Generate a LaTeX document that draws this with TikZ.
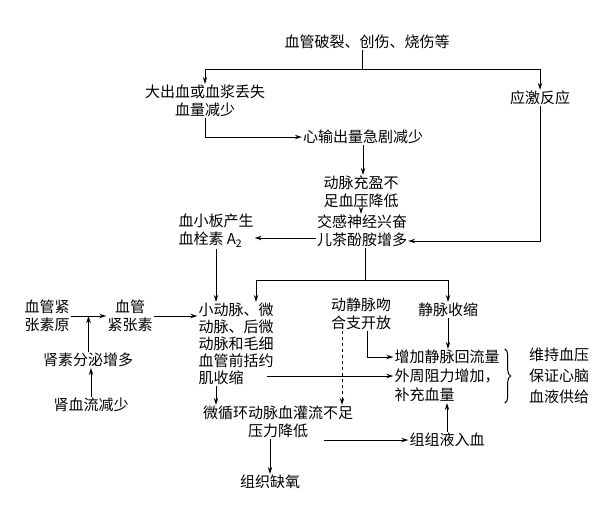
\documentclass[tikz,border=0pt]{standalone}
\usepackage{fontspec}
\setmainfont{Noto Sans CJK SC}
\usetikzlibrary{arrows.meta,positioning,decorations.pathreplacing}

\begin{document}
\begin{tikzpicture}[
    x=1pt, y=-1pt,
    >={Stealth[length=7pt,width=4.5pt]},
    every node/.style={font=\fontsize{15}{18}\selectfont, inner sep=1pt},
    lbl/.style={align=center},
    lblL/.style={align=left},
    arr/.style={->, line width=1pt}
]
    \useasboundingbox (0,0) rectangle (615,508);

    \node (injury) at (367,42) {血管破裂、创伤、烧伤等};
    \node[lbl] (bleed) at (205,101) {大出血或血浆丢失\\血量减少};
    \node (stress) at (540,98) {应激反应};
    \node (output) at (363,137) {心输出量急剧减少};
    \node[lblL] (pressure) at (361,192) {动脉充盈不\\足血压降低};
    \node[lblL] (sympa) at (362,231) {交感神经兴奋\\儿茶酚胺增多};
    \node[lblL] (platelet) at (216,231) {血小板产生\\血栓素 A\textsubscript{2}};

    \node[lbl] (angiogen) at (47,316) {血管紧\\张素原};
    \node[lbl] (angio) at (130,316) {血管\\紧张素};
    \node (renin) at (88,360) {肾素分泌增多};
    \node (kidney) at (91,405) {肾血流减少};
    \node[lblL, font=\fontsize{15}{17}\selectfont] (arteriole) at (236,344) {小动脉、微\\动脉、后微\\动脉和毛细\\血管前括约\\肌收缩};
    \node[lblL] (shunt) at (361,314) {动静脉吻\\合支开放};
    \node (vein) at (448,310) {静脉收缩};
    \node[lblL, font=\fontsize{15}{19}\selectfont] (effect) at (447,376) {增加静脉回流量\\外周阻力增加，\\补充血量};
    \node[lblL, font=\fontsize{15}{21}\selectfont] (result) at (559,376) {维持血压\\保证心脑\\血液供给};
    \node[lbl] (micro) at (278,422) {微循环动脉血灌流不足\\压力降低};
    \node (fluid) at (447,440) {组组液入血};
    \node (hypoxia) at (270,482) {组织缺氧};

    \coordinate (split) at (362,70);
    \coordinate (fork) at (365,280);

    % top part
    \draw[line width=1pt] (split |- injury.south) -- (split);
    \draw[arr] (split) -| (bleed.north);
    \draw[arr] (split) -| (stress.north);
    \draw[arr] (bleed.south) |- (output.west);
    \draw[arr] (output.south) -- (output.south |- pressure.north);
    \draw[arr] (pressure.south) -- (pressure.south |- sympa.north);
    \draw[arr] (stress.south) |- ([yshift=-10pt]sympa.east);
    \draw[arr] ([yshift=-7pt]sympa.west) -- ([yshift=-7pt]platelet.east);
    \draw[line width=1pt] (sympa.south -| fork) -- (fork);
    \draw[arr] (fork) -| ([xshift=20pt]arteriole.north);
    \draw[arr] (fork) -| (vein.north);
    \draw[arr] (platelet.south) -- (platelet.south |- arteriole.north);

    % renin side
    \draw[arr] (angiogen) -- coordinate[pos=.5] (mid) (angio);
    \draw[arr] (renin.north -| mid) -- (mid);
    \draw[arr] (kidney) -- (kidney |- renin.south);
    \draw[arr] (angio.east) -- (angio.east -| arteriole.west);

    % lower part
    \draw[arr] (platelet.south |- arteriole.south) -- (platelet.south |- micro.north);
    \draw[arr] ([xshift=-8pt]arteriole.east |- effect.west) -- (effect.west);
    \draw[arr] ([xshift=6pt]shunt.south) |- ([yshift=19pt]effect.west);
    \draw[arr, dashed] ([xshift=-19pt]shunt.south) -- ([xshift=-19pt]shunt.south |- micro.north);
    \draw[arr] (vein.south) -- (vein.south |- effect.north);
    \draw[arr] (fluid.north) -- (fluid.north |- effect.south);
    \draw[arr] ([xshift=-30pt]micro.east |- fluid.west) -- (fluid.west);
    \draw[arr] (micro.south -| hypoxia) -- (hypoxia);
    \draw[decorate, decoration={brace, amplitude=6pt}, line width=1pt]
        ([xshift=4pt]effect.north east) -- ([xshift=4pt]effect.south east);
\end{tikzpicture}
\end{document}
